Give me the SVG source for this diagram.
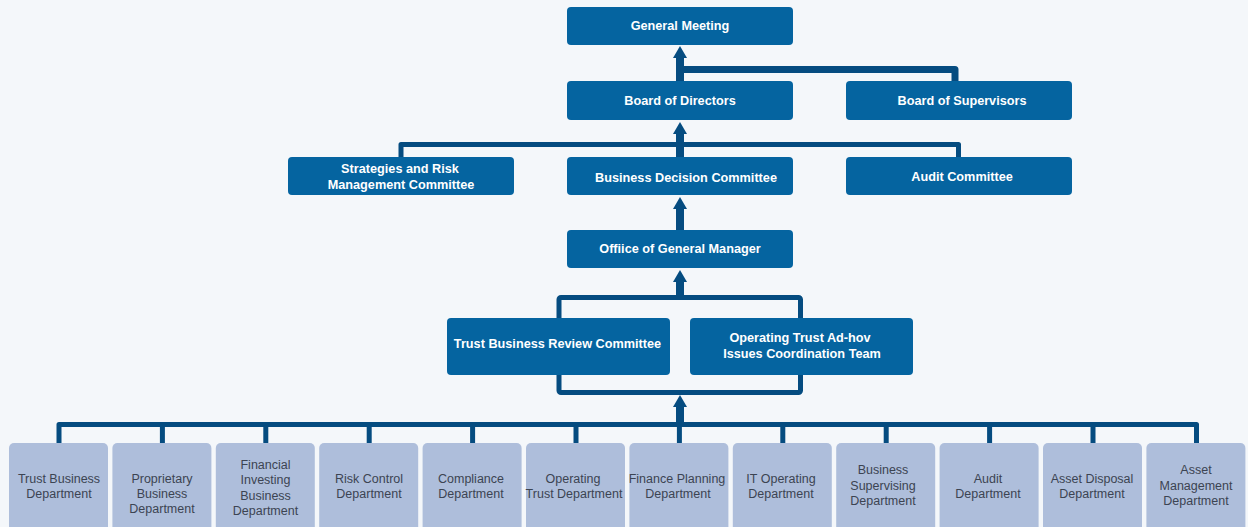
<svg xmlns="http://www.w3.org/2000/svg" width="1248" height="527" viewBox="0 0 1248 527">
<style>
.bg{fill:#f4f7fa}
.nb{fill:#0564a0}
.dp{fill:#aebedb}
.tw{fill:#ffffff;font-family:"Liberation Sans",Arial,sans-serif;font-weight:bold;font-size:12.7px;text-anchor:middle}
.td{fill:#3c4452;font-family:"Liberation Sans",Arial,sans-serif;font-size:12.5px;text-anchor:middle}
.ln{fill:none;stroke:#054c80;stroke-linejoin:round}
.ah{fill:#054c80}
</style>
<rect class="bg" x="0" y="0" width="1248" height="527"/>
<g id="connectors">
  <!-- Board of Directors -> General Meeting, Supervisors join -->
  <path class="ln" stroke-width="8" d="M680 81 V58"/>
  <polygon class="ah" points="673,58 680,46 687,58"/>
  <path class="ln" stroke-width="7" d="M680 69.5 H955 V81"/>
  <!-- committees -> Board of Directors -->
  <path class="ln" stroke-width="5" d="M401 157 V144.5 H958.5 V157"/>
  <path class="ln" stroke-width="8" d="M680 157 V134"/>
  <polygon class="ah" points="673,134 680,122 687,134"/>
  <!-- Office -> Business Decision Committee -->
  <path class="ln" stroke-width="8" d="M680 230 V209"/>
  <polygon class="ah" points="673,209 680,197 687,209"/>
  <!-- bracket -> Office -->
  <path class="ln" stroke-width="8" d="M680 297 V282"/>
  <polygon class="ah" points="673,282 680,270 687,282"/>
  <rect class="ln" stroke-width="5" x="559" y="297.5" width="241.5" height="95" rx="2"/>
  <!-- departments bus -> bracket -->
  <path class="ln" stroke-width="8" d="M680 424 V407"/>
  <polygon class="ah" points="673,407 680,395 687,407"/>
  <path class="ln" stroke-width="5" d="M59 443 V424.5 H1196.5 V443"/>
  <path class="ln" stroke-width="5" d="M162.4 424.5 V443 M265.8 424.5 V443 M369.2 424.5 V443 M472.6 424.5 V443 M576 424.5 V443 M782.8 424.5 V443 M886.2 424.5 V443 M989.6 424.5 V443 M1093 424.5 V443"/>
  <path class="ln" stroke-width="5" d="M679.4 424.5 V443"/>
</g>
<g id="general-meeting"><rect class="nb" x="567" y="7" width="226" height="38" rx="4"/><text class="tw" x="680" y="30">General Meeting</text></g>
<g id="board-of-directors"><rect class="nb" x="567" y="81" width="226" height="39" rx="4"/><text class="tw" x="680" y="105">Board of Directors</text></g>
<g id="board-of-supervisors"><rect class="nb" x="846" y="81" width="226" height="39" rx="4"/><text class="tw" x="962" y="105">Board of Supervisors</text></g>
<g id="strategies-risk"><rect class="nb" x="288" y="157" width="226" height="38" rx="4"/><text class="tw" x="400" y="172.5">Strategies and Risk</text><text class="tw" x="401" y="188.5">Management Committee</text></g>
<g id="business-decision"><rect class="nb" x="567" y="157" width="226" height="38" rx="4"/><text class="tw" x="686" y="181.5">Business Decision Committee</text></g>
<g id="audit-committee"><rect class="nb" x="846" y="157" width="226" height="38" rx="4"/><text class="tw" x="962" y="181">Audit Committee</text></g>
<g id="office-gm"><rect class="nb" x="567" y="230" width="226" height="38" rx="4"/><text class="tw" x="680" y="253">Offiice of General Manager</text></g>
<g id="trust-review"><rect class="nb" x="447" y="318" width="223" height="57" rx="4"/><text class="tw" x="557.5" y="347.5">Trust Business Review Committee</text></g>
<g id="operating-trust-team"><rect class="nb" x="690" y="318" width="223" height="57" rx="4"/><text class="tw" x="800" y="341.5">Operating Trust Ad-hov</text><text class="tw" x="802" y="357.5">Issues Coordination Team</text></g>
<g id="dept-trust-business"><rect class="dp" x="9" y="443" width="99" height="95" rx="5"/><text class="td" x="59" y="482.5">Trust Business</text><text class="td" x="59" y="497.5">Department</text></g>
<g id="dept-proprietary"><rect class="dp" x="112.4" y="443" width="99" height="95" rx="5"/><text class="td" x="162" y="482.5">Proprietary</text><text class="td" x="162" y="497.5">Business</text><text class="td" x="162" y="512.5">Department</text></g>
<g id="dept-financial-investing"><rect class="dp" x="215.8" y="443" width="99" height="95" rx="5"/><text class="td" x="265.5" y="468.5">Financial</text><text class="td" x="265.5" y="484">Investing</text><text class="td" x="265.5" y="499.5">Business</text><text class="td" x="265.5" y="514.5">Department</text></g>
<g id="dept-risk-control"><rect class="dp" x="319.2" y="443" width="99" height="95" rx="5"/><text class="td" x="369" y="482.5">Risk Control</text><text class="td" x="369" y="497.5">Department</text></g>
<g id="dept-compliance"><rect class="dp" x="422.6" y="443" width="99" height="95" rx="5"/><text class="td" x="471" y="482.5">Compliance</text><text class="td" x="471" y="497.5">Department</text></g>
<g id="dept-operating-trust"><rect class="dp" x="526" y="443" width="99" height="95" rx="5"/><text class="td" x="573" y="482.5">Operating</text><text class="td" x="574" y="497.5">Trust Department</text></g>
<g id="dept-finance-planning"><rect class="dp" x="629.4" y="443" width="99" height="95" rx="5"/><text class="td" x="677" y="482.5">Finance Planning</text><text class="td" x="678" y="497.5">Department</text></g>
<g id="dept-it-operating"><rect class="dp" x="732.8" y="443" width="99" height="95" rx="5"/><text class="td" x="781" y="482.5">IT Operating</text><text class="td" x="781" y="497.5">Department</text></g>
<g id="dept-business-supervising"><rect class="dp" x="836.2" y="443" width="99" height="95" rx="5"/><text class="td" x="883" y="474">Business</text><text class="td" x="883" y="489.5">Supervising</text><text class="td" x="883" y="505">Department</text></g>
<g id="dept-audit"><rect class="dp" x="939.6" y="443" width="99" height="95" rx="5"/><text class="td" x="988" y="482.5">Audit</text><text class="td" x="988" y="497.5">Department</text></g>
<g id="dept-asset-disposal"><rect class="dp" x="1043" y="443" width="99" height="95" rx="5"/><text class="td" x="1092" y="482.5">Asset Disposal</text><text class="td" x="1092" y="497.5">Department</text></g>
<g id="dept-asset-management"><rect class="dp" x="1146.4" y="443" width="99" height="95" rx="5"/><text class="td" x="1196" y="474">Asset</text><text class="td" x="1196" y="489.5">Management</text><text class="td" x="1196" y="505">Department</text></g>
</svg>
